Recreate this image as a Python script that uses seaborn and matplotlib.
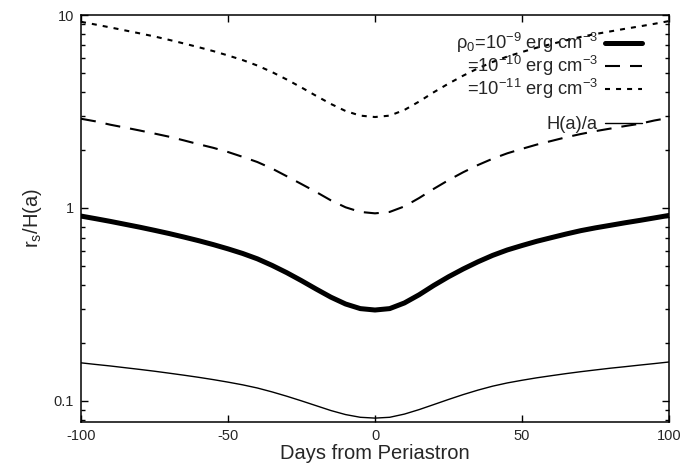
import matplotlib
matplotlib.use("Agg")
import matplotlib.pyplot as plt
import seaborn as sns
import pandas as pd
from matplotlib.ticker import LogLocator, FixedLocator, NullFormatter, NullLocator

# ---- data ----
days = [-100, -95, -90, -85, -80, -75, -70, -65, -60, -55, -50, -45, -40, -35, -30, -25, -20, -15, -10, -5, 0,
        5, 10, 15, 20, 25, 30, 35, 40, 45, 50, 55, 60, 65, 70, 75, 80, 85, 90, 95, 100]
rho9 = [0.908, 0.880, 0.852, 0.823, 0.795, 0.766, 0.737, 0.707, 0.677, 0.646, 0.614, 0.581, 0.545,
        0.504, 0.462, 0.420, 0.380, 0.345, 0.318, 0.301, 0.296,
        0.301, 0.322, 0.355, 0.397, 0.440, 0.483, 0.526, 0.568, 0.606, 0.639, 0.672, 0.702, 0.733,
        0.763, 0.789, 0.813, 0.838, 0.862, 0.888, 0.915]
rho10 = [2.90, 2.81, 2.70, 2.61, 2.52, 2.43, 2.34, 2.24, 2.14, 2.05, 1.95, 1.84, 1.73, 1.60, 1.46,
         1.33, 1.21, 1.095, 1.008, 0.954, 0.938,
         0.954, 1.019, 1.126, 1.257, 1.394, 1.532, 1.669, 1.800, 1.920, 2.025, 2.130, 2.225, 2.325,
         2.417, 2.502, 2.578, 2.657, 2.731, 2.84, 2.93]
rho11 = [9.22, 8.92, 8.62, 8.32, 8.03, 7.74, 7.43, 7.12, 6.81, 6.50, 6.17, 5.84, 5.47, 5.06, 4.63,
         4.21, 3.81, 3.46, 3.18, 3.01, 2.96,
         3.01, 3.22, 3.56, 3.98, 4.41, 4.85, 5.29, 5.71, 6.09, 6.43, 6.77, 7.07, 7.39, 7.70,
         7.97, 8.22, 8.48, 8.73, 9.00, 9.30]
h_over_a = [0.1576, 0.1546, 0.1518, 0.1487, 0.1457, 0.1426, 0.1393, 0.1360, 0.1326, 0.1290, 0.1252,
            0.1212, 0.1167, 0.1114, 0.1058, 0.1001, 0.0945, 0.0892, 0.0850, 0.0823, 0.0815,
            0.0823, 0.0855, 0.0902, 0.0958, 0.1018, 0.1079, 0.1138, 0.1193, 0.1240, 0.1280, 0.1318,
            0.1352, 0.1386, 0.1418, 0.1448, 0.1478, 0.1505, 0.1534, 0.1562, 0.1592]

labels = [r"$\rho_0$=10$^{-9}$ erg cm$^{-3}$",
          r"=10$^{-10}$ erg cm$^{-3}$",
          r"=10$^{-11}$ erg cm$^{-3}$",
          "H(a)/a"]
x_ticks = [-100, -50, 0, 50, 100]
y_ticks = [0.1, 1, 10]
y_ticklabels = ["0.1", "1", "10"]

sns.set_style("white")
plt.rcParams["font.family"] = ["Liberation Sans", "DejaVu Sans"]
plt.rcParams["mathtext.fontset"] = "custom"
plt.rcParams["mathtext.rm"] = "Liberation Sans"
plt.rcParams["mathtext.it"] = "Liberation Sans"
plt.rcParams["mathtext.default"] = "regular"

fig = plt.figure(figsize=(6.83, 4.65), dpi=100)
ax = fig.add_axes([81 / 683, 1 - 422 / 465, (669 - 81) / 683, (422 - 15) / 465])

df = pd.DataFrame({"day": days, "r9": rho9, "r10": rho10, "r11": rho11, "h": h_over_a})

sns.lineplot(data=df, x="day", y="r9", ax=ax, color="black", lw=3.6, label=labels[0])
sns.lineplot(data=df, x="day", y="r10", ax=ax, color="black", lw=1.5, label=labels[1]).lines[-1].set_dashes((7.2, 4.8))
sns.lineplot(data=df, x="day", y="r11", ax=ax, color="black", lw=1.5, label=labels[2]).lines[-1].set_dashes((2.4, 2.9))
# spacer entry for the blank row in the key
ax.plot([], [], color="none", label=" ")
sns.lineplot(data=df, x="day", y="h", ax=ax, color="black", lw=1.0, label=labels[3])

ax.set_yscale("log")
ax.set_xlim(-100, 100)
ax.set_ylim(0.0778, 10)
ax.xaxis.set_major_locator(FixedLocator(x_ticks))
ax.xaxis.set_minor_locator(NullLocator())
ax.set_xticklabels([str(t) for t in x_ticks])
ax.yaxis.set_major_locator(FixedLocator(y_ticks))
ax.set_yticklabels(y_ticklabels)
ax.yaxis.set_minor_locator(LogLocator(base=10, subs=range(2, 10)))
ax.yaxis.set_minor_formatter(NullFormatter())

ax.tick_params(which="both", direction="in", top=True, right=True, bottom=True, left=True,
               width=1.0, color="black", labelsize=10.5, pad=5)
ax.tick_params(which="major", length=5)
ax.tick_params(which="minor", length=3)
for s in ax.spines.values():
    s.set_linewidth(1.1)
    s.set_color("black")

ax.set_xlabel("Days from Periastron", fontsize=14.5, labelpad=1)
ax.set_ylabel(r"r$_s$/H(a)", fontsize=14.5, labelpad=7)

leg = ax.legend(loc="upper right", bbox_to_anchor=(0.954, 0.96), frameon=False, markerfirst=False,
                fontsize=13.2, handlelength=2.0, handletextpad=0.4, labelspacing=-0.06,
                borderpad=0.0, borderaxespad=0.0)

fig.savefig("out.png", dpi=100)
